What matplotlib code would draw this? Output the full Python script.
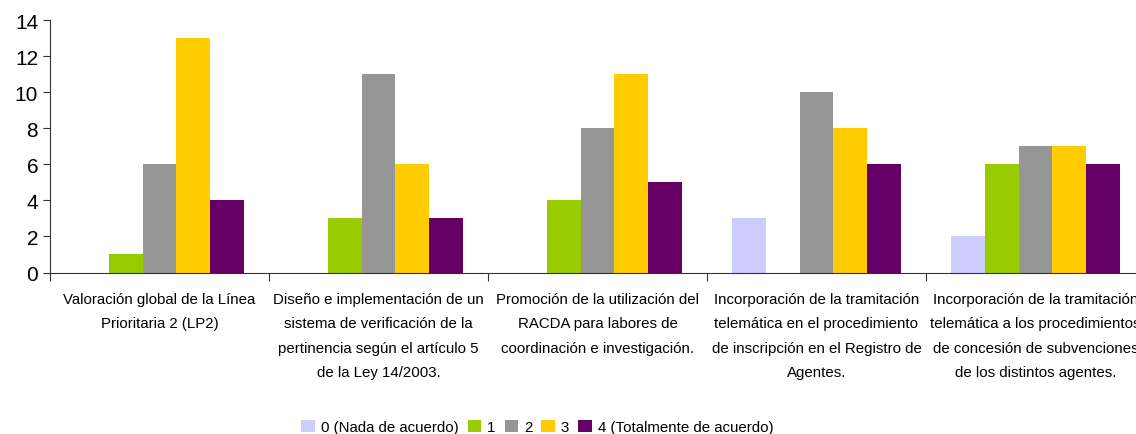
import numpy as np
import matplotlib.pyplot as plt

# --- datos ---
categorias = [
    "Valoración global de la Línea\nPrioritaria 2 (LP2)",
    "Diseño e implementación de un\nsistema de verificación de la\npertinencia según el artículo 5\nde la Ley 14/2003.",
    "Promoción de la utilización del\nRACDA para labores de\ncoordinación e investigación.",
    "Incorporación de la tramitación\ntelemática en el procedimiento\nde inscripción en el Registro de\nAgentes.",
    "Incorporación de la tramitación\ntelemática a los procedimientos\nde concesión de subvenciones\nde los distintos agentes.",
]
series = ["0 (Nada de acuerdo)", "1", "2", "3", "4 (Totalmente de acuerdo)"]
v0 = [0, 0, 0, 3, 2]
v1 = [1, 3, 4, 0, 6]
v2 = [6, 11, 8, 10, 7]
v3 = [13, 6, 11, 8, 7]
v4 = [4, 3, 5, 6, 6]
valores = [v0, v1, v2, v3, v4]
colores = ["#CCCCFF", "#99CC00", "#969696", "#FFCC00", "#660066"]

plt.rcParams['font.family'] = ['Liberation Sans', 'DejaVu Sans']

fig = plt.figure(figsize=(11.36, 4.35), dpi=100)
ax = fig.add_axes([50 / 1136, 1 - 273.5 / 435, 1095 / 1136, 252.5 / 435])

x = np.arange(len(categorias))
w = 0.155
for k, (vals, nombre, col) in enumerate(zip(valores, series, colores)):
    ax.bar(x + (k - 2) * w, vals, width=w, color=col, label=nombre, linewidth=0)

ax.set_xlim(-0.5, len(categorias) - 0.5)
ax.set_ylim(0, 14)
ax.set_yticks(range(0, 15, 2))
ax.tick_params(axis='y', labelsize=15, length=5, color='#333333', labelcolor='black')

# separadores entre categorias
ax.set_xticks(np.arange(-0.5, len(categorias), 1.0))
ax.set_xticklabels([])
ax.set_xticks(x, minor=True)
ax.set_xticklabels(categorias, minor=True, fontsize=10.8, linespacing=1.95)
ax.tick_params(axis='x', which='major', length=6, color='#333333')
ax.tick_params(axis='x', which='minor', length=0, pad=14)

for s in ['top', 'right']:
    ax.spines[s].set_visible(False)
ax.spines['left'].set_color('#333333')
ax.spines['bottom'].set_color('#333333')

fig.legend(loc='lower center', bbox_to_anchor=(0.473, -0.032), ncol=5, frameon=False,
           fontsize=10.8, handlelength=0.9, handleheight=0.9, handletextpad=0.4,
           columnspacing=0.6)

fig.savefig("out.png", dpi=100)
